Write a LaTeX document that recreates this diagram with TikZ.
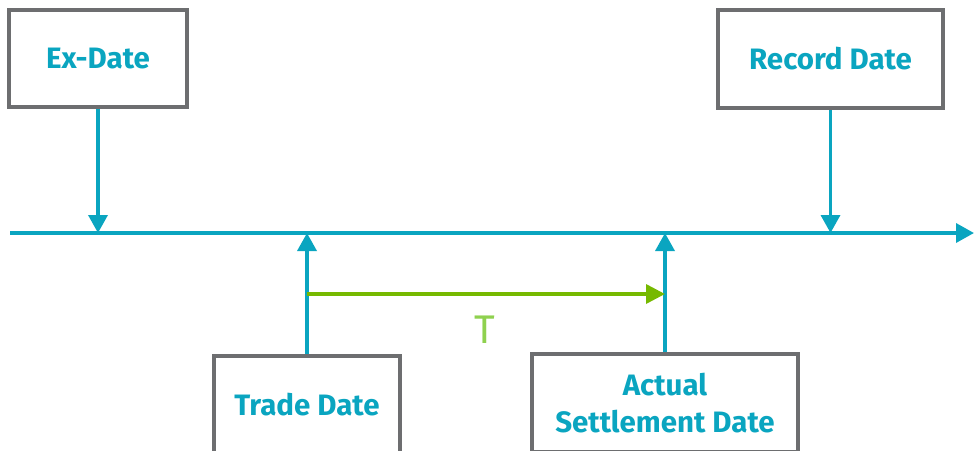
\documentclass[tikz,border=0pt]{standalone}
\usepackage{fontspec}
\setmainfont{Fira Sans}
\usetikzlibrary{arrows.meta}
\definecolor{teal}{HTML}{0AA5C0}
\definecolor{boxgray}{HTML}{6D6E70}
\definecolor{arrowgreen}{HTML}{76B900}
\definecolor{tgreen}{HTML}{8FD14F}
\tikzset{
  datebox/.style={draw=boxgray, line width=3.5pt, fill=white, inner sep=0pt,
    align=center, text=teal, font=\fontsize{29.5}{37}\selectfont\bfseries},
  tealline/.style={draw=teal, line width=3.5pt},
  tealtip/.style={-{Triangle[width=19pt,length=18pt]}},
  greenline/.style={draw=arrowgreen, line width=3.5pt, -{Triangle[width=19pt,length=19pt]}},
}
\begin{document}
\begin{tikzpicture}[x=1pt,y=-1pt]
\useasboundingbox (0,0) rectangle (976,450);
\node[datebox, minimum width=178pt, minimum height=97pt] (ex) at (98,58.5) {Ex-Date};
\node[datebox, minimum width=225pt, minimum height=98pt] (rec) at (830.5,59) {Record Date};
\node[datebox, minimum width=186pt, minimum height=98pt] (trade) at (307,405) {Trade Date};
\node[datebox, minimum width=266pt, minimum height=98pt] (act) at (665,403) {Actual\\Settlement Date};
\coordinate (tl0) at (10,233);
\coordinate (tl1) at (974,233);
\draw[tealline, tealtip] (tl0) -- (tl1);
\draw[tealline, tealtip] (ex.south) -- (ex.south |- tl0);
\draw[tealline, tealtip] (rec.south) -- (rec.south |- tl0);
\draw[tealline, tealtip] (trade.north) -- (trade.north |- tl0);
\draw[tealline, tealtip] (act.north) -- (act.north |- tl0);
\coordinate (g0) at (307,294);
\coordinate (g1) at (665,294);
\draw[greenline] (g0) -- (g1);
\node[text=tgreen, font=\fontsize{40}{42}\selectfont, inner sep=0pt] (T) at (485,330) {T};
\end{tikzpicture}
\end{document}
